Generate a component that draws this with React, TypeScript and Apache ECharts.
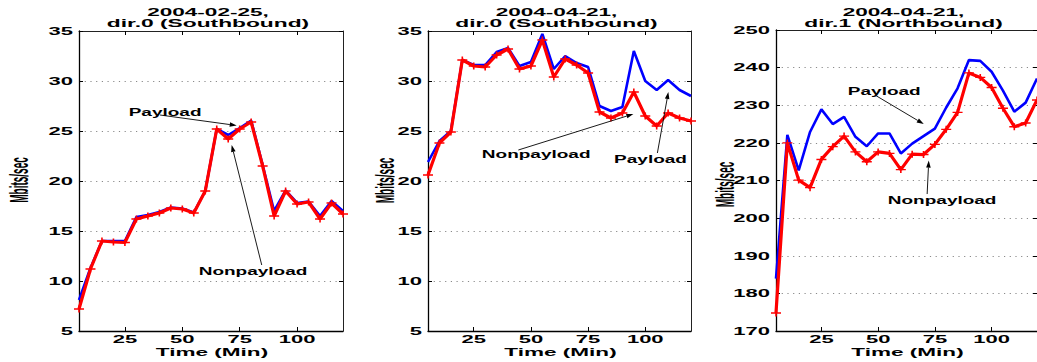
import React, { useEffect, useRef } from "react";
import * as echarts from "echarts";

// ---------------- data ----------------
const MINUTES = [5, 10, 15, 20, 25, 30, 35, 40, 45, 50, 55, 60, 65, 70, 75, 80, 85, 90, 95, 100, 105, 110, 115, 120];

const FEB25_SB_PAYLOAD = [8.1, 11.3, 14.0, 14.0, 14.0, 16.4, 16.6, 16.9, 17.35, 17.25, 16.85, 19.0, 25.2, 24.6, 25.3, 26.05, 21.6, 17.0, 19.05, 17.8, 17.95, 16.5, 18.0, 17.0];
const FEB25_SB_NONPAYLOAD = [7.2, 11.2, 14.0, 13.9, 13.85, 16.2, 16.5, 16.8, 17.3, 17.2, 16.8, 19.0, 25.2, 24.2, 25.2, 25.9, 21.5, 16.5, 19.0, 17.7, 17.9, 16.2, 17.8, 16.7];

const APR21_SB_PAYLOAD = [21.9, 24.0, 25.0, 32.1, 31.6, 31.6, 32.9, 33.3, 31.5, 31.9, 34.7, 31.2, 32.5, 31.8, 31.4, 27.5, 27.0, 27.4, 33.0, 30.0, 29.1, 30.1, 29.1, 28.5];
const APR21_SB_NONPAYLOAD = [20.6, 23.8, 24.9, 32.1, 31.5, 31.4, 32.6, 33.2, 31.2, 31.5, 34.1, 30.4, 32.2, 31.6, 30.8, 26.9, 26.3, 26.8, 28.9, 26.5, 25.5, 26.8, 26.3, 26.0];

const APR21_NB_PAYLOAD = [183.9, 222.1, 212.7, 222.9, 228.9, 225.0, 226.9, 221.6, 219.1, 222.5, 222.5, 217.2, 219.8, 221.8, 223.8, 229.4, 234.5, 242.0, 241.8, 238.9, 233.9, 228.3, 230.7, 237.1];
const APR21_NB_NONPAYLOAD = [174.8, 220.0, 210.1, 208.1, 215.6, 219.0, 221.8, 217.6, 215.0, 217.6, 217.2, 212.9, 217.0, 216.9, 219.6, 223.6, 228.1, 238.6, 237.4, 234.7, 229.2, 224.3, 225.3, 231.4];

const X_TICKS = [25, 50, 75, 100];
const Y_TICKS_SB = [5, 10, 15, 20, 25, 30, 35];
const Y_TICKS_NB = [170, 180, 190, 200, 210, 220, 230, 240, 250];

const TITLES = [
  ["2004-02-25,", "dir.0 (Southbound)"],
  ["2004-04-21,", "dir.0 (Southbound)"],
  ["2004-04-21,", "dir.1 (Northbound)"],
];
const X_NAME = "Time (Min)";
const Y_NAME = "Mbits/sec";

// annotations in data coordinates: [label, textX, textY, arrowFromX, arrowFromY, arrowToX, arrowToY]
const NOTES_P1: [string, number, number, number, number, number, number][] = [
  ["Payload", 42.5, 26.9, 40.3, 26.6, 73.7, 25.55],
  ["Nonpayload", 80.8, 11.0, 84.6, 11.6, 71.5, 23.6],
];
const NOTES_P2: [string, number, number, number, number, number, number][] = [
  ["Nonpayload", 52.3, 22.7, 44.5, 23.1, 94.8, 26.7],
  ["Payload", 102.3, 22.2, 105.3, 22.8, 110.1, 28.9],
];
const NOTES_P3: [string, number, number, number, number, number, number][] = [
  ["Payload", 52.7, 233.7, 49.2, 232.5, 70.1, 225.0],
  ["Nonpayload", 78.2, 204.8, 71.6, 206.4, 72.3, 215.3],
];

// ---------------- layout ----------------
const PANELS = [
  { left: 79, top: 31, width: 264, height: 300, yMin: 5, yMax: 35, yInterval: 5, yTicks: Y_TICKS_SB, payload: FEB25_SB_PAYLOAD, nonpayload: FEB25_SB_NONPAYLOAD, title: TITLES[0], notes: NOTES_P1, yNamePos: [19, 180] },
  { left: 428, top: 31, width: 263, height: 300, yMin: 5, yMax: 35, yInterval: 5, yTicks: Y_TICKS_SB, payload: APR21_SB_PAYLOAD, nonpayload: APR21_SB_NONPAYLOAD, title: TITLES[1], notes: NOTES_P2, yNamePos: [385, 180.5] },
  { left: 776, top: 30, width: 261, height: 301, yMin: 170, yMax: 250, yInterval: 10, yTicks: Y_TICKS_NB, payload: APR21_NB_PAYLOAD, nonpayload: APR21_NB_NONPAYLOAD, title: TITLES[2], notes: NOTES_P3, yNamePos: [724.5, 184.5] },
];

const X_MIN = 5;
const X_MAX = 120;
const FONT = '"Liberation Sans", Arial, Helvetica, sans-serif';
const PLUS = "path://M0,40H100V60H0Z M42,0H58V100H42Z";

function txt(text: string, x: number, y: number, font: string, align: string, opts: any = {}) {
  return {
    type: "text",
    x,
    y,
    scaleX: opts.scaleX ?? 1,
    scaleY: opts.scaleY ?? 1,
    rotation: opts.rotation ?? 0,
    silent: true,
    z: 100,
    style: {
      text,
      font,
      fill: "#000",
      align,
      verticalAlign: "middle",
      textAlign: align,
      textVerticalAlign: "middle",
    },
  };
}

export default function App() {
  const ref = useRef<HTMLDivElement>(null);

  useEffect(() => {
    if (!ref.current) return;
    const chart = echarts.init(ref.current, null, { renderer: "svg" });

    const grid: any[] = [];
    const xAxis: any[] = [];
    const yAxis: any[] = [];
    const series: any[] = [];

    PANELS.forEach((p, i) => {
      grid.push({ left: p.left, top: p.top, width: p.width, height: p.height, containLabel: false, outerBoundsMode: "none" });
      const axLine = { show: true, onZero: false, lineStyle: { color: "#000", width: 1.3 } };
      const xBase = {
        type: "value",
        gridIndex: i,
        min: X_MIN,
        max: X_MAX,
        axisLine: axLine,
        axisLabel: { show: false },
        axisTick: { show: true, inside: true, length: 4, customValues: X_TICKS, lineStyle: { color: "#000", width: 1 } },
        splitLine: { show: false },
      };
      xAxis.push({ ...xBase, position: "bottom" });
      xAxis.push({ ...xBase, position: "top", axisLine: { ...axLine, lineStyle: { color: "#222", width: 1 } } });
      const yBase = {
        type: "value",
        gridIndex: i,
        min: p.yMin,
        max: p.yMax,
        interval: p.yInterval,
        axisLine: axLine,
        axisLabel: { show: false },
        axisTick: { show: true, inside: true, length: 4, lineStyle: { color: "#000", width: 1 } },
      };
      yAxis.push({
        ...yBase,
        position: "left",
        splitLine: { show: true, lineStyle: { color: "#8a8a8a", width: 1, type: [1.2, 4.5] } },
      });
      yAxis.push({ ...yBase, position: "right", axisLine: { ...axLine, lineStyle: { color: "#222", width: 1 } }, splitLine: { show: false } });

      series.push({
        type: "line",
        name: "Payload",
        xAxisIndex: 2 * i,
        yAxisIndex: 2 * i,
        data: MINUTES.map((m, k) => [m, p.payload[k]]),
        showSymbol: false,
        symbol: "none",
        lineStyle: { color: "#0000ff", width: 2.6 },
        z: 3,
      });
      series.push({
        type: "line",
        name: "Nonpayload",
        xAxisIndex: 2 * i,
        yAxisIndex: 2 * i,
        data: MINUTES.map((m, k) => [m, p.nonpayload[k]]),
        symbol: PLUS,
        symbolSize: [10, 7],
        itemStyle: { color: "#ff0000" },
        lineStyle: { color: "#ff0000", width: 3.2 },
        z: 4,
      });
    });

    chart.setOption({
      animation: false,
      backgroundColor: "#ffffff",
      grid,
      xAxis,
      yAxis,
      series,
    });

    const g: any[] = [];
    const tickFont = `bold 11px ${FONT}`;
    PANELS.forEach((p, i) => {
      const toPx = (x: number, y: number) => chart.convertToPixel({ gridIndex: i } as any, [x, y]) as number[];
      const cx = p.left + p.width / 2 - 3;
      // titles
      g.push(txt(p.title[0], cx, 12.5, `bold 11px ${FONT}`, "center", { scaleX: 2.05 }));
      g.push(txt(p.title[1], cx, 23, `bold 11px ${FONT}`, "center", { scaleX: 2.07 }));
      // y tick labels
      p.yTicks.forEach((v) => {
        const pt = toPx(X_MIN, v);
        g.push(txt(String(v), pt[0] - 6, pt[1], tickFont, "right", { scaleX: 2.0 }));
      });
      // x tick labels
      X_TICKS.forEach((v) => {
        const pt = toPx(v, p.yMin);
        g.push(txt(String(v), pt[0], pt[1] + 8, tickFont, "center", { scaleX: 2.0 }));
      });
      // axis names
      g.push(txt(X_NAME, p.left + p.width / 2 + 1, 352, `bold 11px ${FONT}`, "center", { scaleX: 2.05 }));
      g.push(txt(Y_NAME, p.yNamePos[0], p.yNamePos[1], `bold 10px ${FONT}`, "center", { rotation: Math.PI / 2, scaleY: 2.6 }));
      // annotations
      p.notes.forEach((n) => {
        const [label, tx, ty, ax, ay, bx, by] = n;
        const t = toPx(tx, ty);
        const a = toPx(ax, ay);
        const b = toPx(bx, by);
        g.push(txt(label, t[0], t[1], `bold 10px ${FONT}`, "center", { scaleX: 1.9 }));
        const dx = b[0] - a[0];
        const dy = b[1] - a[1];
        const len = Math.sqrt(dx * dx + dy * dy) || 1;
        const ux = dx / len;
        const uy = dy / len;
        const L = 7;
        const W = 2.3;
        const bxp = b[0] - ux * L;
        const byp = b[1] - uy * L;
        g.push({
          type: "line",
          silent: true,
          z: 100,
          shape: { x1: a[0], y1: a[1], x2: bxp, y2: byp },
          style: { stroke: "#000", lineWidth: 0.9 },
        });
        g.push({
          type: "polygon",
          silent: true,
          z: 100,
          shape: {
            points: [
              [b[0], b[1]],
              [bxp - uy * W, byp + ux * W],
              [bxp + uy * W, byp - ux * W],
            ],
          },
          style: { fill: "#000" },
        });
      });
    });
    chart.setOption({ graphic: { elements: g } });

    return () => {
      chart.dispose();
    };
  }, []);

  return (
    <div
      ref={ref}
      style={{ position: "fixed", left: 0, top: 0, width: 1037, height: 362, background: "#fff" }}
    />
  );
}
